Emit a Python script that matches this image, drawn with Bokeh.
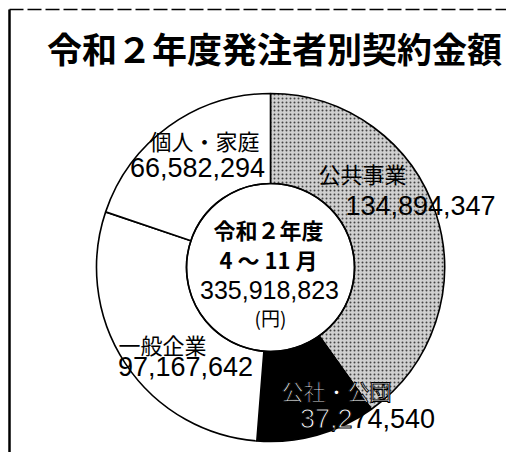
import math
from bokeh.plotting import figure
from bokeh.models import Range1d, ColumnDataSource
from bokeh.core.properties import value
from bokeh.embed import file_html
from bokeh.resources import INLINE

# ---- data ----
categories = ["公共事業", "公社・公団", "一般企業", "個人・家庭"]
amounts = [134894347, 37274540, 97167642, 66582294]
total = 335918823
title_text = "令和２年度発注者別契約金額"
center_title = "令和２年度"
center_period = "4 ～ 11 月"
center_unit = "(円)"

# ---- layout (picture pixel coordinates; data y = H - picture y) ----
W, H = 506, 452


def Y(py):
    return H - py


CX, CY = 270, Y(267)
R_OUT, R_IN = 174, 84
fills = ["#d0d0d0", "#000000", "#ffffff", "#ffffff"]
hatches = [".", " ", " ", " "]
name_pos = [(362, 172), (336, 389), (162, 343), (204, 139)]
amt_pos = [(420, 205), (367, 418), (185, 366), (197, 167)]

p = figure(width=W, height=H, x_range=Range1d(0, W), y_range=Range1d(0, H),
           output_backend="svg", toolbar_location=None, min_border=0,
           outline_line_color=None, background_fill_color="white")
p.axis.visible = False
p.grid.visible = False

# wedges: start at top, clockwise
starts, ends = [], []
cum = 0
for a in amounts:
    starts.append(math.pi / 2 - cum / total * 2 * math.pi)
    cum += a
    ends.append(math.pi / 2 - cum / total * 2 * math.pi)

src = ColumnDataSource(dict(x=[CX] * 4, y=[CY] * 4, s=starts, e=ends,
                            fill=fills, hatch=hatches, cat=categories))
p.annular_wedge(x="x", y="y", inner_radius=R_IN, outer_radius=R_OUT,
                start_angle="s", end_angle="e", direction="clock",
                fill_color="fill", hatch_pattern="hatch", hatch_color="#444444",
                hatch_scale=4, hatch_weight=1.2,
                line_color="black", line_width=1.6, source=src)
p.circle(x=[CX], y=[CY], radius=R_IN, fill_color=None, line_color="black", line_width=1.6)

# borders
p.line(x=[9, 9], y=[Y(9), Y(460)], line_color="black", line_width=2.5)
p.line(x=[9, 506], y=[Y(9), Y(9)], line_color="black", line_width=1.5, line_dash="14 4")

JP = value("Noto Sans CJK JP")
NUM = value("Liberation Sans")
NUM_SIZE = 27

# title
p.text(x=[274], y=[Y(47)], text=[title_text], text_font=JP, text_font_style="bold",
       text_font_size="35px", text_align="center", text_baseline="middle", text_color="black")

fmt = ["{:,}".format(a) for a in amounts]
for i in range(4):
    nx, ny = name_pos[i]
    ax, ay = amt_pos[i]
    if i == 1:
        # outlined (hollow) label over the black slice
        p.text(x=[nx], y=[Y(ny)], text=[categories[i]], text_font=JP, text_font_size="22px",
               text_align="center", text_baseline="middle", text_color="white",
               text_outline_color="black")
        # amount: first part hollow over black, rest solid black
        head, tail = fmt[i][:4], fmt[i][4:]
        full_w = (8 * 0.556 + 2 * 0.278) * NUM_SIZE
        split_x = ax - full_w / 2 + (3 * 0.556 + 0.278) * NUM_SIZE
        p.text(x=[split_x], y=[Y(ay)], text=[head], text_font=NUM,
               text_font_size=f"{NUM_SIZE}px", text_align="right", text_baseline="middle",
               text_color="white", text_outline_color="black")
        p.text(x=[split_x], y=[Y(ay)], text=[tail], text_font=NUM,
               text_font_size=f"{NUM_SIZE}px", text_align="left", text_baseline="middle",
               text_color="black")
    else:
        p.text(x=[nx], y=[Y(ny)], text=[categories[i]], text_font=JP, text_font_size="22px",
               text_align="center", text_baseline="middle", text_color="black")
        p.text(x=[ax], y=[Y(ay)], text=[fmt[i]], text_font=NUM,
               text_font_size=f"{NUM_SIZE}px", text_align="center", text_baseline="middle",
               text_color="black")

# center texts
p.text(x=[268], y=[Y(228)], text=[center_title], text_font=JP, text_font_style="bold",
       text_font_size="22px", text_align="center", text_baseline="middle", text_color="black")
p.text(x=[268], y=[Y(258)], text=[center_period], text_font=JP, text_font_style="bold",
       text_font_size="22px", text_align="center", text_baseline="middle", text_color="black")
p.text(x=[269], y=[Y(289)], text=["{:,}".format(total)], text_font=NUM,
       text_font_size="25px", text_align="center", text_baseline="middle", text_color="black")
p.text(x=[270], y=[Y(317)], text=[center_unit], text_font=JP,
       text_font_size="19px", text_align="center", text_baseline="middle", text_color="black")

open("out.html", "w").write(file_html(p, INLINE))
